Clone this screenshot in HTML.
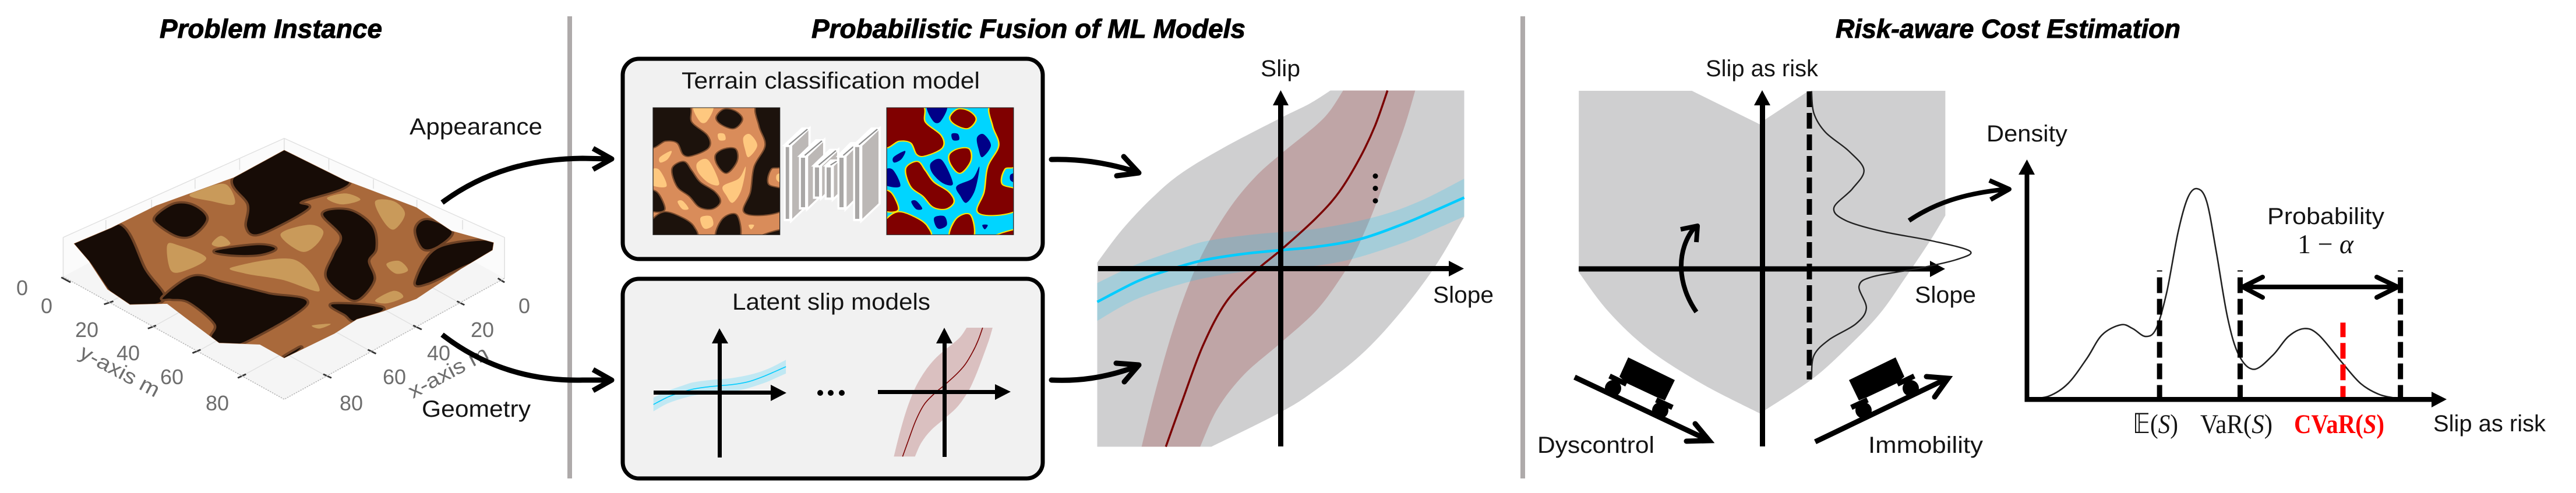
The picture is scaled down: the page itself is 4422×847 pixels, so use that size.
<!DOCTYPE html>
<html lang="en">
<head>
<meta charset="utf-8">
<title>Risk-aware terrain cost pipeline</title>
<style>
html,body{margin:0;padding:0;background:#fff;}
svg{display:block;}
text{font-family:"Liberation Sans","DejaVu Sans",sans-serif;fill:#141414;}
.title{font-weight:700;font-style:italic;font-size:45px;fill:#000;stroke:#000;stroke-width:1px;}
.lbl{font-size:40px;}
.tick{font-size:36px;fill:#6d6d6d;}
.math{font-family:"Liberation Serif","DejaVu Serif",serif;font-size:47px;}
</style>
</head>
<body>
<svg id="figure" xmlns="http://www.w3.org/2000/svg" width="4422" height="847" viewBox="0 0 4422 847">
<defs>
<clipPath id="clip-map"><rect x="50" y="45" width="517" height="655"/></clipPath>
<clipPath id="clip-seg"><rect x="1003" y="45" width="517" height="655"/></clipPath>
<clipPath id="clip-surface"><polygon points="200,775 300,725 420,655 630,565 765,478 930,575 1120,660 1215,735 1328,772 1325,795 1240,855 1120,950 1030,990 960,1015 900,1060 765,1138 700,1095 590,1090 500,1010 450,965 350,968 290,920 240,830"/></clipPath>
</defs>
<rect width="4422" height="847" fill="#fff"/>

<text class="title" x="274" y="65" textLength="382" lengthAdjust="spacingAndGlyphs">Problem Instance</text>
<text class="title" x="1393" y="65" textLength="745" lengthAdjust="spacingAndGlyphs">Probabilistic Fusion of ML Models</text>
<text class="title" x="3151" y="65" textLength="592" lengthAdjust="spacingAndGlyphs">Risk-aware Cost Estimation</text>

<rect x="974" y="28" width="8" height="794" fill="#aeaaaa"/>
<rect x="2610" y="28" width="8" height="794" fill="#aeaaaa"/>

<!-- 3D terrain, authored in a scaled local frame -->
<g transform="scale(.6378,.5402)">
  <polygon points="170,755 765,440 765,1000 170,880" fill="#fbfbfb"/>
  <polygon points="1358,755 765,440 765,1000 1358,885" fill="#fbfbfb"/>
  <polygon points="170,880 765,1270 1358,885 765,500" fill="#f5f5f5"/>
  <g stroke="#e0e0e0" stroke-width="2.5" fill="none">
    <path d="M290,965 L885,575 M408,1042 L1005,650 M528,1120 L1122,730 M650,1197 L1245,810"/>
    <path d="M1240,965 L645,575 M1122,1042 L525,650 M1002,1120 L408,730 M880,1197 L285,810"/>
    <path d="M170,755 V880 M1358,755 V885 M765,440 V480 M285,700 V730 M408,635 V665 M525,570 V600 M645,505 V540 M885,505 V540 M1005,570 V600 M1122,635 V665 M1245,700 V730"/>
    <path d="M170,755 L765,440 L1358,755"/>
  </g>
  <path d="M165,882 L190,898 M280,968 L305,958 M398,1045 L420,1035 M518,1123 L540,1112 M640,1202 L662,1190 M1230,958 L1250,970 M1112,1035 L1135,1048 M990,1112 L1012,1125 M870,1190 L892,1202 M1340,885 L1358,898" stroke="#333" stroke-width="5" fill="none"/>
  <path d="M170,880 L765,1270 L1358,885" stroke="#bbb" stroke-width="3" stroke-dasharray="4 3" fill="none"/>
  <polygon fill="#a9693b" stroke="#a9693b" stroke-width="2"
    points="200,775 300,725 420,655 630,565 765,478 930,575 1120,660 1215,735 1328,772 1325,795 1240,855 1120,950 1030,990 960,1015 900,1060 765,1138 700,1095 590,1090 500,1010 450,965 350,968 290,920 240,830"/>
  <g id="terrain-regions" clip-path="url(#clip-surface)"></g>
</g>
<g text-anchor="middle">
  <text class="tick" x="38" y="507">0</text><text class="tick" x="80" y="538">0</text><text class="tick" x="149" y="579">20</text><text class="tick" x="220" y="619">40</text><text class="tick" x="295" y="660">60</text><text class="tick" x="373" y="705">80</text>
  <text class="tick" x="900" y="538">0</text><text class="tick" x="828" y="579">20</text><text class="tick" x="753" y="619">40</text><text class="tick" x="677" y="660">60</text><text class="tick" x="603" y="705">80</text>
</g>
<text class="tick" text-anchor="middle" transform="translate(200,648) rotate(28)" textLength="150" lengthAdjust="spacingAndGlyphs">y-axis m</text>
<text class="tick" text-anchor="middle" transform="translate(775,650) rotate(-28)" textLength="150" lengthAdjust="spacingAndGlyphs">x-axis m</text>

<text class="lbl" x="703" y="231" textLength="228" lengthAdjust="spacingAndGlyphs">Appearance</text>
<text class="lbl" x="724" y="716" textLength="187" lengthAdjust="spacingAndGlyphs">Geometry</text>

<g fill="none" stroke="#000" stroke-width="9" stroke-linecap="round" stroke-linejoin="round">
  <path d="M759,348 C830,295 910,273 1000,272 L1048,273 M1018,255 L1050,273 L1018,291" stroke-linecap="butt"/>
  <path d="M759,575 C830,630 910,655 1000,653 L1048,653 M1018,635 L1050,653 L1018,671" stroke-linecap="butt"/>
</g>

<!-- Terrain classification box -->
<rect x="1069" y="101" width="721" height="344" rx="28" fill="#f1f1f1" stroke="#000" stroke-width="7"/>
<text class="lbl" x="1170" y="152" textLength="512" lengthAdjust="spacingAndGlyphs">Terrain classification model</text>
<g transform="translate(1100,170) scale(.4209,.3333)">
  <g id="map-img" clip-path="url(#clip-map)"><rect x="50" y="45" width="517" height="655" fill="#d98c5a"/></g>
  <rect x="50" y="45" width="517" height="655" fill="none" stroke="#222" stroke-width="3"/>
  <g id="cnn"></g>
  <g id="seg-img" clip-path="url(#clip-seg)"><rect x="1003" y="45" width="517" height="655" fill="#00d5ff"/></g>
  <rect x="1003" y="45" width="517" height="655" fill="none" stroke="#222" stroke-width="3"/>
</g>

<!-- Latent slip models box -->
<rect x="1069" y="479" width="721" height="343" rx="28" fill="#f1f1f1" stroke="#000" stroke-width="7"/>
<text class="lbl" x="1257" y="532" textLength="340" lengthAdjust="spacingAndGlyphs">Latent slip models</text>
<g id="mini-blue"></g>
<g id="mini-red"></g>
<g fill="#000">
  <rect x="1122" y="671" width="206" height="7"/>
  <polygon points="1323,661 1350,675 1323,689"/>
  <rect x="1232" y="585" width="7" height="201"/>
  <polygon points="1222,590 1235,564 1250,590"/>
  <rect x="1507" y="670" width="206" height="7"/>
  <polygon points="1708,660 1735,673 1708,687"/>
  <rect x="1618" y="585" width="7" height="200"/>
  <polygon points="1607,590 1621,563 1635,590"/>
  <circle cx="1408" cy="675" r="5"/>
  <circle cx="1426" cy="675" r="5"/>
  <circle cx="1445" cy="675" r="5"/>
</g>

<!-- Fusion chart -->
<g id="fusion"></g>
<g fill="#000">
  <rect x="1885" y="457" width="615" height="9"/>
  <polygon points="2487,448 2513,461.5 2487,475"/>
  <rect x="2194" y="175" width="9" height="592"/>
  <polygon points="2185,181 2198.5,155 2212,181"/>
  <circle cx="2361" cy="302.5" r="4.5"/>
  <circle cx="2361" cy="323.6" r="4.5"/>
  <circle cx="2361" cy="345" r="4.5"/>
</g>
<text class="lbl" x="2164" y="131" textLength="68" lengthAdjust="spacingAndGlyphs">Slip</text>
<text class="lbl" x="2460" y="520" textLength="104" lengthAdjust="spacingAndGlyphs">Slope</text>
<g fill="none" stroke="#000" stroke-width="9" stroke-linejoin="round">
  <path d="M1805,274 C1850,273 1895,278 1950,295 M1929,269 L1955,297 L1917,302" stroke-linecap="round"/>
  <path d="M1805,653 C1850,655 1895,650 1950,630 M1916,624 L1955,627 L1930,656" stroke-linecap="round"/>
</g>

<!-- Risk chart -->
<g id="risk-band"></g>
<g fill="#000">
  <rect x="2710" y="457.5" width="620" height="9"/>
  <polygon points="3313,448 3339,462 3313,476"/>
  <rect x="3021" y="175" width="9" height="592"/>
  <polygon points="3011,181 3025,155 3039,181"/>
</g>
<line x1="3106" y1="157" x2="3106" y2="652" stroke="#000" stroke-width="9" stroke-dasharray="27 10"/>
<g id="risk-density"></g>
<text class="lbl" x="2928" y="131" textLength="193" lengthAdjust="spacingAndGlyphs">Slip as risk</text>
<text class="lbl" x="3287" y="520" textLength="105" lengthAdjust="spacingAndGlyphs">Slope</text>
<g fill="none" stroke="#000" stroke-width="8" stroke-linejoin="round">
  <path d="M2912,536 C2880,490 2875,430 2911,388 M2885,394 L2914,388 L2912,416"/>
  <path d="M3277,379 C3320,350 3370,332 3445,325 M3415,310 L3449,325 L3417,343"/>
</g>
<g>
  <line x1="2703" y1="648" x2="2930" y2="755" stroke="#000" stroke-width="9"/>
  <path d="M2910,728 L2934,757 L2895,758" fill="none" stroke="#000" stroke-width="9" stroke-linecap="round" stroke-linejoin="miter"/>
  <polygon points="2795,614 2875,653 2858,688 2843,682 2792,658 2780,647"/>
  <line x1="2763" y1="646" x2="2792" y2="660" stroke="#000" stroke-width="9"/>
  <line x1="2843" y1="687" x2="2871" y2="700" stroke="#000" stroke-width="9"/>
  <circle cx="2769" cy="667" r="14"/>
  <circle cx="2850" cy="705" r="14"/>
</g>
<g>
  <line x1="3116" y1="759" x2="3341" y2="651" stroke="#000" stroke-width="9"/>
  <path d="M3307,647 L3344,650 L3321,682" fill="none" stroke="#000" stroke-width="9" stroke-linecap="round"/>
  <g transform="translate(6049,0) scale(-1,1)">
    <polygon points="2795,614 2875,653 2858,688 2843,682 2792,658 2780,647"/>
    <line x1="2763" y1="646" x2="2792" y2="660" stroke="#000" stroke-width="9"/>
    <line x1="2843" y1="687" x2="2871" y2="700" stroke="#000" stroke-width="9"/>
    <circle cx="2769" cy="667" r="14"/>
    <circle cx="2850" cy="705" r="14"/>
  </g>
</g>
<text class="lbl" x="2639" y="778" textLength="201" lengthAdjust="spacingAndGlyphs">Dyscontrol</text>
<text class="lbl" x="3207" y="778" textLength="197" lengthAdjust="spacingAndGlyphs">Immobility</text>

<!-- Density chart -->
<g id="density"></g>
<g fill="#000">
  <rect x="3475.5" y="300" width="8" height="390"/>
  <polygon points="3465,300 3479.5,274 3493,300"/>
  <rect x="3475.5" y="682" width="705" height="8.5"/>
  <polygon points="4174,673 4200,686 4174,700"/>
</g>
<g fill="none" stroke="#000" stroke-width="8" stroke-linecap="round" stroke-linejoin="miter">
  <path d="M3852,493 H4114 M3884,476 L3850,493 L3884,511 M4080,476 L4116,493 L4080,511"/>
</g>
<text class="lbl" x="3410" y="243" textLength="139" lengthAdjust="spacingAndGlyphs">Density</text>
<text class="lbl" x="3892" y="385" textLength="201" lengthAdjust="spacingAndGlyphs">Probability</text>
<text class="math" x="3944" y="435" textLength="96" lengthAdjust="spacingAndGlyphs">1 − <tspan font-style="italic">α</tspan></text>
<text class="math" x="3661" y="744" textLength="78" lengthAdjust="spacingAndGlyphs"><tspan style="font-family:'DejaVu Sans','Liberation Serif',serif">𝔼</tspan>(<tspan font-style="italic">S</tspan>)</text>
<text class="math" x="3777" y="744" textLength="124" lengthAdjust="spacingAndGlyphs">VaR(<tspan font-style="italic">S</tspan>)</text>
<text class="math" x="3938" y="744" textLength="155" lengthAdjust="spacingAndGlyphs" style="fill:#f00;font-weight:700">CVaR(<tspan font-style="italic">S</tspan>)</text>
<text class="lbl" x="4177" y="741" textLength="193" lengthAdjust="spacingAndGlyphs">Slip as risk</text>
</svg>

<script>
/* ---------- Fusion chart data (slope, slip in normalised units) ---------- */
const grayUpperSlope=[-1,-.864,-.702,-.54,-.297,0,.157,.271];
const grayUpperSlip=[.034,.219,.396,.537,.687,.846,.926,1];
const grayLowerSlope=[1,.838,.643,.433,.19,0,-.378];
const grayLowerSlip=[.29,.007,-.258,-.488,-.682,-.806,-1];

const redMeanSlope=[-.626,-.54,-.425,-.297,-.134,0,.19,.319,.433,.514,.582];
const redMeanSlip=[-1,-.753,-.435,-.187,-.011,.104,.281,.431,.625,.802,1];
const redUpperSlope=[-.758,-.686,-.588,-.491,-.394,-.264,-.135,0,.19,.271,.34];
const redUpperSlip=[-1,-.70,-.346,-.064,.148,.36,.519,.643,.802,.89,1];
const redLowerSlope=[.733,.676,.595,.498,.40,.319,.19,0,-.199,-.345,-.439];
const redLowerSlip=[1,.802,.572,.307,.078,-.064,-.24,-.417,-.594,-.788,-1];

const blueMeanSlope=[-1,-.783,-.621,-.426,-.216,0,.19,.433,.676,.838,1];
const blueMeanSlip=[-.187,-.072,-.011,.046,.081,.104,.122,.166,.254,.325,.399];
const blueUpperSlope=[-1,-.783,-.54,-.394,-.135,.19,.514,.757,1];
const blueUpperSlip=[-.081,.025,.113,.157,.193,.223,.29,.378,.505];
const blueLowerSlope=[1,.838,.676,.40,.19,0,-.216,-.491,-.783,-1];
const blueLowerSlip=[.293,.219,.148,.057,.016,.004,-.019,-.072,-.17,-.293];

/* ---------- Risk chart data ---------- */
const riskTopSlope=[-1,-.383,-.009,.018,.255,1];
const riskTopSlip=[1,1,.81,.84,1,1];
const riskRightSlope=[1,.912,.785,.639,.456,.274,.018];
const riskRightSlip=[.30,.15,-.044,-.256,-.451,-.618,-.792];
const riskLeftSlope=[-.009,-.328,-.62,-.839,-1];
const riskLeftSlip=[-.813,-.645,-.451,-.239,-.019];
const sliceSlope=.257;
const sliceSlip=[.998,.873,.767,.661,.555,.449,.343,.272,.21,.157,.099,.051,0,-.044,-.097,-.221,-.309,-.398,-.486,-.61];
const sliceDensity=[.013,.026,.089,.217,.299,.235,.135,.199,.40,.673,.878,.80,.582,.345,.272,.312,.254,.108,.026,.013];

/* ---------- Density chart data ---------- */
const riskValues=[.007,.052,.098,.143,.179,.224,.252,.283,.308,.333,.36,.383,.405,.428,.451,.478,.505,.541,.586,.623,.661,.695,.749,.795,.84,.885];
const densityValues=[.003,.013,.066,.171,.269,.311,.295,.262,.295,.446,.696,.84,.879,.827,.617,.341,.184,.125,.184,.262,.295,.269,.157,.066,.02,.003];
const markerNames=['expected-value','value-at-risk','cvar','tail-end'];
const markerRisk=[.316,.508,.753,.89];
const markerHeight=[.538,.538,.32,.538];
const markerColor=['#000','#000','#f00','#000'];

/* ---------- Illustration outlines (terrain textures, CNN blocks) ---------- */
const surfaceDarkBlobs=[
 [[190,770],[320,715],[390,860],[440,950],[350,975],[300,930],[240,830]],
 [[440,945],[520,880],[600,900],[720,935],[825,965],[670,1080],[610,1095],[570,1075],[580,1030],[510,960],[460,950]],
 [[630,565],[765,470],[940,575],[810,640],[830,660],[760,710],[690,745],[665,720],[670,650]],
 [[420,690],[470,650],[520,655],[555,695],[520,745],[480,750],[430,715]],
 [[580,798],[690,780],[740,790],[700,808],[630,810]],
 [[870,680],[940,670],[1000,720],[1010,790],[990,830],[1005,890],[965,950],[930,940],[880,880],[900,810],[920,750]],
 [[1120,730],[1150,700],[1215,735],[1180,780],[1140,790]],
 [[1120,895],[1180,790],[1335,765],[1335,800],[1240,850],[1150,900]],
 [[895,968],[1030,980],[960,1020],[930,1000]],
 [[760,1140],[810,1105],[770,1145]]
];
const surfaceTanBlobs=[
 [[510,620],[590,585],[620,600],[630,650],[570,640]],
 [[880,630],[930,615],[970,635],[920,650]],
 [[1010,640],[1060,640],[1090,680],[1060,730],[1030,700]],
 [[755,745],[830,715],[870,735],[850,780],[810,800]],
 [[570,775],[595,750],[620,775],[590,785]],
 [[450,780],[480,780],[555,820],[500,860],[460,860]],
 [[625,850],[790,825],[860,925],[760,890],[660,870]],
 [[1040,840],[1075,830],[1098,860],[1065,870]],
 [[1010,955],[1060,925],[1085,945],[1040,965]],
 [[840,1035],[890,1030],[860,1045]]
];
const mapDarkBlobs=[
 [[40,35],[190,35],[205,120],[270,190],[275,250],[210,290],[175,285],[150,225],[100,215],[40,240]],
 [[310,95],[340,55],[385,65],[412,105],[380,150],[330,130]],
 [[307,290],[340,260],[385,260],[390,320],[350,380],[315,340]],
 [[475,35],[585,35],[585,320],[530,360],[518,440],[585,475],[585,565],[500,597],[422,580],[450,480],[465,350],[510,240],[485,140]],
 [[130,360],[175,325],[205,370],[240,430],[300,480],[322,530],[290,565],[240,555],[200,500],[150,450]],
 [[40,640],[95,585],[170,615],[215,660],[215,715],[40,715]],
 [[40,480],[70,490],[95,570],[40,570]],
 [[310,715],[335,620],[390,600],[400,715]],
 [[490,710],[580,675],[580,715]]
];
const mapTanBlobs=[
 [[215,35],[295,35],[270,115],[240,115]],
 [[315,180],[340,180],[345,210],[320,212]],
 [[418,200],[445,182],[475,240],[440,300],[425,260]],
 [[78,300],[125,268],[110,310],[80,328]],
 [[40,370],[75,365],[105,450],[40,440]],
 [[230,330],[275,315],[320,435],[280,435],[235,380]],
 [[335,450],[400,410],[428,350],[410,470],[375,535],[350,500]],
 [[150,530],[170,525],[195,565],[170,568]],
 [[245,610],[285,605],[295,650],[265,670],[248,650]],
 [[440,650],[462,650],[450,672]],
 [[555,390],[580,385],[580,430],[555,420]]
];
const cnnLayers=[[583,30,240,630,75,90],[645,33,295,570,70,85],[702,33,345,515,70,85],[750,33,345,520,25,30],[802,33,295,570,55,70],[866,33,240,630,75,90]];

/* ---------- Helpers ---------- */
const NS='http://www.w3.org/2000/svg';
function mk(parent,tag,attrs){
  const e=document.createElementNS(NS,tag);
  for(const k in attrs){e.setAttribute(k,attrs[k]);}
  parent.appendChild(e);
  return e;
}
function pts(xs,ys,fx,fy){return xs.map((x,i)=>[fx(x),fy(ys[i])]);}
function seg(p){
  let s='';
  for(let i=0;i<p.length-1;i++){
    const a=p[i-1]||p[i],b=p[i],c=p[i+1],d=p[i+2]||c;
    s+=`C${(b[0]+(c[0]-a[0])/6).toFixed(1)} ${(b[1]+(c[1]-a[1])/6).toFixed(1)} ${(c[0]-(d[0]-b[0])/6).toFixed(1)} ${(c[1]-(d[1]-b[1])/6).toFixed(1)} ${c[0].toFixed(1)} ${c[1].toFixed(1)}`;
  }
  return s;
}
function open(p){return `M${p[0][0].toFixed(1)} ${p[0][1].toFixed(1)}`+seg(p);}
function joinTo(p){return `L${p[0][0].toFixed(1)} ${p[0][1].toFixed(1)}`+seg(p);}
function closedBlob(p){
  const n=p.length;let s=`M${p[0][0]} ${p[0][1]}`;
  for(let i=0;i<n;i++){
    const a=p[(i-1+n)%n],b=p[i],c=p[(i+1)%n],d=p[(i+2)%n];
    s+=`C${b[0]+(c[0]-a[0])/6} ${b[1]+(c[1]-a[1])/6} ${c[0]-(d[0]-b[0])/6} ${c[1]-(d[1]-b[1])/6} ${c[0]} ${c[1]}`;
  }
  return s+'Z';
}
const BLUE_BAND='rgba(0,200,255,.2)',RED_BAND='rgba(128,0,0,.2)';

/* ---------- Axis functions ---------- */
const fusionX=u=>2198.5+u*315, fusionY=v=>461.5-v*306;
const miniBlueX=u=>1235.4+u*113.7, miniBlueY=v=>674.2-v*110.7;
const miniRedX=u=>1620.6+u*113.7, miniRedY=v=>673.7-v*110.7;
const riskX=u=>3024.8+u*314.6, riskY=v=>462-v*306;
const costX=s=>3479.5+s*720.4, costY=d=>686-d*411.7;

function band(g,name,fill,upX,upY,loX,loY,fx,fy){
  const el=mk(g,'path',{d:open(pts(upX,upY,fx,fy))+joinTo(pts(loX,loY,fx,fy))+'Z',fill:fill});
  
  
}
function mean(g,name,color,w,xs,ys,fx,fy){
  const el=mk(g,'path',{d:open(pts(xs,ys,fx,fy)),fill:'none',stroke:color,'stroke-width':w});
  
  
}

/* ---------- Fusion chart ---------- */
(function(){
  const g=document.getElementById('fusion');
  const up=pts(grayUpperSlope,grayUpperSlip,fusionX,fusionY);
  const lo=pts(grayLowerSlope,grayLowerSlip,fusionX,fusionY);
  const d=open(up)+`L${fusionX(1)} ${fusionY(1)}`+joinTo(lo)+`L${fusionX(-1)} ${fusionY(-1)}Z`;
  const grayBand=mk(g,'path',{d:d,fill:'#cfcfd0'});
  
  
  band(g,'red-model-band',RED_BAND,redUpperSlope,redUpperSlip,redLowerSlope,redLowerSlip,fusionX,fusionY);
  band(g,'blue-model-band',BLUE_BAND,blueUpperSlope,blueUpperSlip,blueLowerSlope,blueLowerSlip,fusionX,fusionY);
  mean(g,'red-model-mean','#7a0000',3.5,redMeanSlope,redMeanSlip,fusionX,fusionY);
  mean(g,'blue-model-mean','#00ccff',4.5,blueMeanSlope,blueMeanSlip,fusionX,fusionY);
  const mb=document.getElementById('mini-blue');
  band(mb,'mini-blue-band',BLUE_BAND,blueUpperSlope,blueUpperSlip,blueLowerSlope,blueLowerSlip,miniBlueX,miniBlueY);
  mean(mb,'mini-blue-mean','#00ccff',1.6,blueMeanSlope,blueMeanSlip,miniBlueX,miniBlueY);
  const mr=document.getElementById('mini-red');
  band(mr,'mini-red-band',RED_BAND,redUpperSlope,redUpperSlip,redLowerSlope,redLowerSlip,miniRedX,miniRedY);
  mean(mr,'mini-red-mean','#7a0000',1.6,redMeanSlope,redMeanSlip,miniRedX,miniRedY);
})();

/* ---------- Risk chart ---------- */
(function(){
  const g=document.getElementById('risk-band');
  let d='M'+riskTopSlope.map((u,i)=>`${riskX(u).toFixed(1)} ${riskY(riskTopSlip[i]).toFixed(1)}`).join('L');
  d+=joinTo(pts(riskRightSlope,riskRightSlip,riskX,riskY))+joinTo(pts(riskLeftSlope,riskLeftSlip,riskX,riskY))+'Z';
  const shield=mk(g,'path',{d:d,fill:'#cfcfd0'});
  
  
  const h=document.getElementById('risk-density');
  const p=sliceDensity.map((v,i)=>[riskX(sliceSlope+v),riskY(sliceSlip[i])]);
  const curve=mk(h,'path',{d:open(p),fill:'none',stroke:'#222','stroke-width':2.4});
  
  
})();

/* ---------- Density chart ---------- */
(function(){
  const g=document.getElementById('density');
  const curve=mk(g,'path',{d:open(pts(riskValues,densityValues,costX,costY)),fill:'none',stroke:'#222','stroke-width':2.6});
  
  
  markerRisk.forEach((s,i)=>{
    const top=costY(markerHeight[i]);
    const off=markerColor[i]==='#f00'?2:25;
    const m=mk(g,'line',{x1:costX(s),x2:costX(s),y1:top,y2:686,stroke:markerColor[i],'stroke-width':9,'stroke-dasharray':'27 10','stroke-dashoffset':off});
    
    
  });
})();

/* ---------- Terrain surface, map + segmentation textures ---------- */
(function(){
  const t=document.getElementById('terrain-regions');
  surfaceDarkBlobs.forEach(p=>{
    const e=mk(t,'path',{d:closedBlob(p),fill:'#170c06',stroke:'#6e4225','stroke-width':14,'paint-order':'stroke'});
    
    
  });
  surfaceTanBlobs.forEach(p=>{
    const e=mk(t,'path',{d:closedBlob(p),fill:'#c99a5a'});
    
    
  });
  const a=document.getElementById('map-img'),b=document.getElementById('seg-img');
  mapDarkBlobs.forEach(p=>{
    const e=mk(a,'path',{d:closedBlob(p),fill:'#1c120c',stroke:'#7a4c2e','stroke-width':12,'paint-order':'stroke'});
    
    
    const s=mk(b,'path',{d:closedBlob(p.map(q=>[q[0]+953,q[1]])),fill:'#800000',stroke:'#ffe600','stroke-width':12,'paint-order':'stroke'});
    
    
  });
  mapTanBlobs.forEach(p=>{
    const e=mk(a,'path',{d:closedBlob(p),fill:'#fec87f'});
    
    
    const s=mk(b,'path',{d:closedBlob(p.map(q=>[q[0]+953,q[1]])),fill:'#000088'});
    
    
  });
  const c=document.getElementById('cnn');
  cnnLayers.forEach(l=>{
    const [x,w,t2,bt,dx,dy]=l,r=x+w;
    const side=mk(c,'polygon',{points:`${r},${t2} ${r+dx},${t2-dy} ${r+dx},${bt-dy} ${r},${bt}`,fill:'#bcb8b6',stroke:'#fff','stroke-width':9});
    
    
    const topFace=mk(c,'polygon',{points:`${x},${t2} ${x+dx},${t2-dy} ${r+dx},${t2-dy} ${r},${t2}`,fill:'#fff',stroke:'#fff','stroke-width':7});
    
    
    const edge=mk(c,'line',{x1:x+w*.72,y1:t2-4,x2:x+w*.72+dx,y2:t2-dy+6,stroke:'#8d8d8d','stroke-width':6});
    
    
    const front=mk(c,'rect',{x:x,y:t2,width:w,height:bt-t2,fill:'#fff'});
    
    
    const inner=mk(c,'rect',{x:x+8,y:t2+8,width:w-16,height:bt-t2-20,fill:'#a9a7a6'});
    
    
  });
})();
</script>
</body>
</html>
